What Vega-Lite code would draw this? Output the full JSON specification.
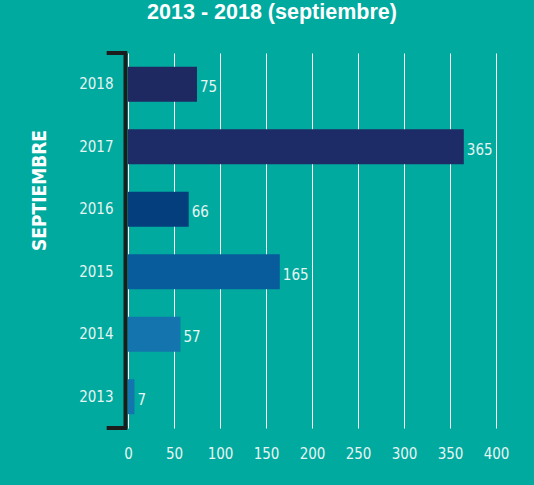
{
  "$schema": "https://vega.github.io/schema/vega-lite/v6.json",
  "autosize": {"type": "none"},
  "padding": {"left": 128, "top": 53, "right": 38, "bottom": 57},
  "width": 368,
  "height": 375,
  "background": "#00aa9f",
  "config": {
    "view": {"stroke": null},
    "font": "Roboto"
  },
  "title": {
    "text": "2013 - 2018 (septiembre)",
    "font": "Liberation Sans",
    "fontSize": 21.5,
    "fontWeight": "bold",
    "color": "#ffffff",
    "anchor": "middle",
    "frame": "group",
    "baseline": "alphabetic",
    "offset": 10,
    "dx": -40
  },
  "datasets": {
    "bars": [
      {"year": "2018", "value": 75},
      {"year": "2017", "value": 365},
      {"year": "2016", "value": 66},
      {"year": "2015", "value": 165},
      {"year": "2014", "value": 57},
      {"year": "2013", "value": 7}
    ],
    "bracket": [
      {"p": 0},
      {"p": 1}
    ]
  },
  "layer": [
    {
      "data": {"name": "bars"},
      "layer": [
        {
          "mark": {"type": "bar"},
          "encoding": {
            "y": {
              "field": "year",
              "type": "nominal",
              "sort": "descending",
              "scale": {"paddingInner": 0.44, "paddingOuter": 0.22},
              "axis": {
                "title": "SEPTIEMBRE",
                "titleFont": "'DejaVu Sans Condensed', Roboto",
                "titleFontSize": 19,
                "titleFontWeight": "bold",
                "titleColor": "#ffffff",
                "titleAngle": -90,
                "titleAlign": "center",
                "titleBaseline": "middle",
                "titleX": -86,
                "titleY": 137,
                "offset": 3,
                "domain": true,
                "domainColor": "#1c1c1c",
                "domainWidth": 4,
                "ticks": false,
                "labelPadding": 12,
                "labelFontSize": 15,
                "labelColor": "#e6f4f2",
                "labelFont": "'DejaVu Sans Condensed', Roboto"
              }
            },
            "x": {
              "field": "value",
              "type": "quantitative",
              "scale": {"domain": [0, 400], "nice": false},
              "axis": {
                "title": null,
                "values": [0, 50, 100, 150, 200, 250, 300, 350, 400],
                "domain": false,
                "ticks": false,
                "grid": true,
                "gridColor": "#ffffff",
                "gridOpacity": 1,
                "gridWidth": 1,
                "labelFlush": false,
                "labelPadding": 18,
                "labelFontSize": 15,
                "labelColor": "#e6f4f2",
                "labelFont": "'DejaVu Sans Condensed', Roboto"
              }
            },
            "color": {
              "field": "year",
              "type": "nominal",
              "scale": {
                "domain": ["2018", "2017", "2016", "2015", "2014", "2013"],
                "range": ["#1e2962", "#1d2b66", "#053e7c", "#085c9b", "#1474ae", "#1474ae"]
              },
              "legend": null
            }
          }
        },
        {
          "mark": {"type": "text", "align": "left", "baseline": "middle", "dx": 3, "dy": 3, "fontSize": 15, "color": "#e6f4f2", "font": "'DejaVu Sans Condensed', Roboto"},
          "encoding": {
            "y": {"field": "year", "type": "nominal", "sort": "descending"},
            "x": {"field": "value", "type": "quantitative"},
            "text": {"field": "value", "type": "quantitative"}
          }
        }
      ]
    },
    {
      "data": {"name": "bracket"},
      "mark": {"type": "rule", "color": "#1c1c1c", "strokeWidth": 4, "strokeCap": "square"},
      "encoding": {
        "y": {"field": "p", "type": "quantitative", "scale": {"domain": [0, 1]}, "axis": null},
        "x": {"datum": -21},
        "x2": {"datum": -3}
      }
    }
  ],
  "resolve": {"scale": {"y": "independent"}}
}
